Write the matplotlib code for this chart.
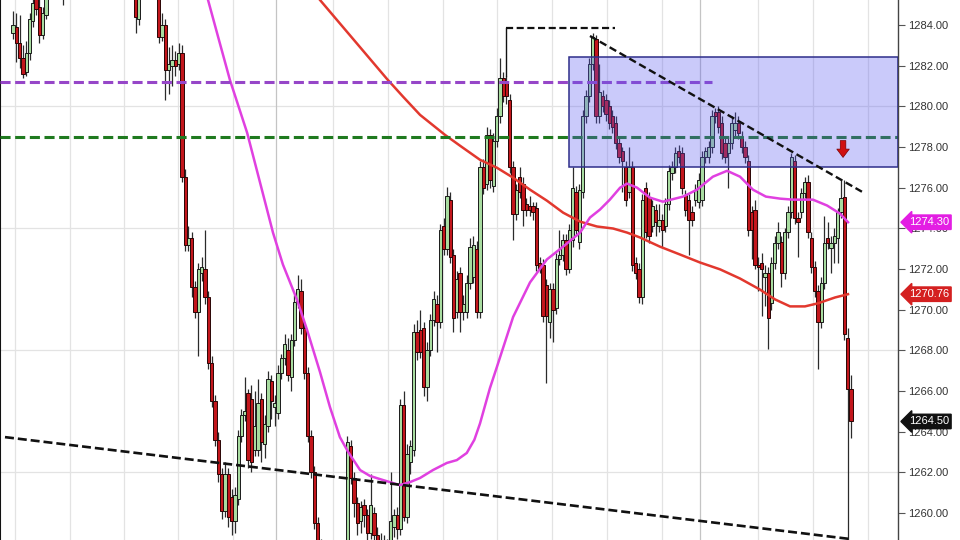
import matplotlib
matplotlib.use('Agg')
import matplotlib.pyplot as plt
import matplotlib.transforms as mtransforms
from matplotlib.patches import Rectangle
import numpy as np

# ---------------- data ----------------
opens = [1286.0, 1286.4, 1285.9, 1283.6, 1283.9, 1283.1, 1282.4, 1281.7, 1282.6, 1284.2,
         1285.6, 1284.9, 1283.5, 1284.5, 1285.6, 1286.3, 1286.9, 1286.5, 1286.0, 1286.6,
         1287.4, 1288.0, 1287.6, 1288.3, 1288.9, 1288.4, 1287.8, 1288.2, 1287.5, 1287.0,
         1287.6, 1287.2, 1286.8, 1287.3, 1286.9, 1286.4, 1286.8, 1286.2, 1286.5, 1286.1,
         1285.8, 1284.3, 1285.5, 1286.2, 1286.6, 1286.1, 1285.8, 1285.9, 1283.4, 1284.0,
         1281.8, 1282.0, 1282.3, 1282.1, 1282.6, 1276.5, 1273.2, 1273.5, 1271.1, 1269.9,
         1271.8, 1272.0, 1270.6, 1267.4, 1265.5, 1263.6, 1261.9, 1260.1, 1261.9, 1260.8,
         1259.6, 1260.7, 1263.8, 1264.8, 1265.9, 1265.6, 1263.1, 1263.1, 1265.6, 1263.4,
         1264.3, 1266.5, 1265.2, 1264.9, 1266.9, 1267.6, 1268.0, 1266.7, 1268.5, 1270.4,
         1270.9, 1269.1, 1266.9, 1263.8, 1262.0, 1259.5, 1258.4, 1257.9, 1257.5, 1257.9,
         1257.2, 1256.8, 1257.4, 1257.6, 1258.2, 1263.3, 1261.7, 1260.5, 1259.6, 1260.4,
         1259.9, 1259.0, 1260.0, 1258.9, 1258.2, 1258.4, 1258.1, 1258.0, 1259.3, 1259.9,
         1259.2, 1265.3, 1259.8, 1262.5, 1263.1, 1268.9, 1269.0, 1269.1, 1266.2, 1268.0,
         1269.5, 1270.3, 1269.4, 1274.1, 1273.0, 1275.4, 1272.7, 1269.9, 1271.8, 1269.9,
         1269.9, 1271.3, 1271.6, 1273.0, 1269.9, 1277.0, 1276.2, 1278.6, 1276.1, 1278.3,
         1279.5, 1281.4, 1281.2, 1280.3, 1277.0, 1274.7, 1276.5, 1276.2, 1275.2, 1275.1,
         1275.1, 1275.0, 1272.3, 1272.2, 1271.2, 1269.4, 1271.0, 1270.1, 1272.5, 1272.7,
         1273.45, 1272.0, 1273.45, 1275.8, 1273.35, 1275.8, 1279.5, 1280.5, 1282.1, 1283.3,
         1279.5, 1280.5, 1280.3, 1280.0, 1279.5, 1279.2, 1278.2, 1277.8, 1277.0, 1275.8,
         1277.0, 1272.3, 1272.0, 1270.6, 1276.0, 1275.55, 1274.1, 1274.9, 1274.1, 1274.4,
         1274.1, 1275.2, 1276.7, 1277.0, 1277.8, 1277.7, 1275.65, 1275.4, 1274.8, 1275.4,
         1275.3, 1275.4, 1277.5, 1277.5, 1278.0, 1279.7, 1279.7, 1279.2, 1278.2, 1277.7,
         1278.2, 1278.85, 1279.2, 1278.5, 1278.0, 1277.3, 1274.8, 1274.9, 1272.2, 1272.3,
         1271.6, 1271.8, 1270.35, 1272.3, 1273.3, 1273.35, 1271.8, 1273.8, 1274.8, 1277.3,
         1274.5, 1274.8, 1275.75, 1276.3, 1273.5, 1272.1, 1270.9, 1269.4, 1271.3, 1273.5,
         1273.05, 1273.3, 1273.5, 1274.8, 1275.55, 1268.6, 1266.1]

highs = [1286.8, 1286.9, 1286.2, 1284.7, 1284.6, 1284.5, 1283.0, 1283.2, 1284.6, 1285.5,
         1286.0, 1285.3, 1284.9, 1286.0, 1286.8, 1287.3, 1287.4, 1286.8, 1287.0, 1287.8,
         1288.4, 1288.5, 1288.7, 1289.3, 1289.4, 1288.7, 1288.6, 1288.5, 1287.8, 1287.9,
         1288.0, 1287.5, 1287.6, 1287.7, 1287.2, 1287.1, 1287.0, 1286.9, 1286.8, 1286.5,
         1286.3, 1285.8, 1286.6, 1287.0, 1286.9, 1286.4, 1286.2, 1286.2, 1284.6, 1284.3,
         1282.9, 1283.0, 1282.7, 1283.1, 1283.0, 1276.9, 1274.1, 1273.8, 1271.4, 1272.3,
         1272.6, 1273.9, 1270.9, 1267.7, 1265.8, 1264.0, 1262.2, 1262.5, 1262.2, 1261.2,
         1261.3, 1264.1, 1265.1, 1266.7, 1266.1, 1266.3, 1266.0, 1266.6, 1265.9, 1264.8,
         1267.0, 1266.8, 1265.8, 1267.3, 1267.8, 1268.8, 1268.6, 1268.8, 1270.7, 1271.7,
         1271.5, 1269.4, 1267.2, 1264.1, 1262.3, 1259.8, 1258.7, 1258.3, 1258.2, 1258.3,
         1257.5, 1257.8, 1258.0, 1258.5, 1263.8, 1263.6, 1262.0, 1260.8, 1260.6, 1260.7,
         1260.2, 1261.9, 1260.3, 1259.3, 1259.0, 1258.9, 1258.7, 1262.0, 1260.2, 1260.3,
         1265.6, 1266.0, 1263.4, 1263.6, 1269.3, 1269.5, 1270.0, 1269.4, 1268.4, 1269.8,
         1270.9, 1270.7, 1274.2, 1274.5, 1276.05, 1275.8, 1273.0, 1271.9, 1272.1, 1270.7,
         1271.7, 1273.5, 1273.6, 1273.4, 1277.3, 1277.4, 1279.0, 1278.9, 1278.7, 1279.9,
         1282.4, 1281.7, 1281.5, 1280.6, 1277.3, 1276.2, 1277.0, 1276.5, 1275.5, 1275.6,
         1275.3, 1275.3, 1272.6, 1272.5, 1271.5, 1271.3, 1271.3, 1272.8, 1273.9, 1273.7,
         1273.7, 1274.2, 1277.0, 1276.1, 1276.2, 1279.8, 1280.8, 1282.4, 1283.6, 1283.5,
         1282.1, 1280.8, 1280.6, 1280.3, 1279.8, 1279.5, 1278.5, 1278.0, 1277.3, 1278.0,
         1277.3, 1272.6, 1272.3, 1275.7, 1276.3, 1275.8, 1275.4, 1275.2, 1275.2, 1274.7,
         1275.5, 1277.1, 1277.3, 1278.0, 1278.1, 1278.0, 1275.9, 1275.7, 1275.1, 1276.2,
         1276.7, 1277.8, 1278.0, 1278.3, 1279.8, 1279.9, 1280.0, 1279.5, 1278.5, 1278.5,
         1279.5, 1279.7, 1279.5, 1278.8, 1278.3, 1277.6, 1275.1, 1275.4, 1272.6, 1272.8,
         1272.2, 1272.1, 1272.6, 1273.6, 1274.3, 1273.6, 1274.0, 1275.1, 1277.7, 1277.6,
         1274.8, 1276.0, 1276.5, 1276.6, 1273.8, 1272.4, 1271.2, 1271.6, 1274.6, 1274.3,
         1273.6, 1274.0, 1275.0, 1276.4, 1276.4, 1269.1, 1266.8]

lows = [1285.6, 1285.5, 1285.3, 1283.3, 1282.2, 1281.9, 1281.4, 1281.5, 1282.3, 1283.9,
        1284.5, 1283.1, 1283.3, 1284.3, 1285.4, 1286.0, 1286.1, 1285.6, 1285.0, 1286.4,
        1287.1, 1287.2, 1287.3, 1288.0, 1288.0, 1287.5, 1287.4, 1287.1, 1286.7, 1286.8,
        1286.9, 1286.5, 1286.6, 1286.5, 1286.0, 1286.1, 1285.8, 1285.9, 1285.7, 1285.5,
        1283.6, 1284.0, 1285.3, 1285.9, 1285.8, 1285.4, 1285.5, 1283.1, 1283.2, 1280.3,
        1280.6, 1281.0, 1281.5, 1281.8, 1276.3, 1272.9, 1272.9, 1270.6, 1269.6, 1267.7,
        1271.4, 1270.3, 1267.1, 1265.2, 1263.3, 1261.5, 1259.7, 1259.8, 1259.3, 1258.9,
        1259.0, 1260.4, 1263.5, 1264.5, 1262.2, 1262.0, 1262.8, 1262.8, 1262.5, 1262.7,
        1264.0, 1264.6, 1264.3, 1264.6, 1266.6, 1267.3, 1266.5, 1266.0, 1268.2, 1270.1,
        1268.8, 1266.6, 1263.5, 1261.7, 1259.2, 1258.1, 1257.6, 1257.2, 1257.1, 1256.8,
        1256.4, 1256.5, 1257.0, 1257.1, 1258.0, 1261.4, 1259.8, 1258.9, 1259.0, 1259.3,
        1258.5, 1258.7, 1258.4, 1257.8, 1257.7, 1257.6, 1257.5, 1257.8, 1258.8, 1258.7,
        1258.9, 1259.6, 1259.5, 1261.9, 1262.8, 1267.5, 1267.6, 1265.75, 1265.5, 1267.7,
        1269.2, 1267.9, 1269.1, 1272.7, 1272.7, 1272.3, 1268.9, 1269.6, 1268.9, 1269.5,
        1269.6, 1271.0, 1271.3, 1269.6, 1269.6, 1275.7, 1275.9, 1276.0, 1275.8, 1278.0,
        1279.2, 1280.2, 1280.1, 1276.7, 1273.45, 1274.4, 1275.5, 1274.1, 1274.6, 1274.6,
        1274.4, 1271.9, 1271.8, 1269.4, 1266.4, 1268.6, 1268.4, 1269.8, 1272.2, 1272.4,
        1271.7, 1271.8, 1273.1, 1273.6, 1273.0, 1275.5, 1279.2, 1280.2, 1281.8, 1279.2,
        1279.2, 1279.7, 1279.3, 1278.9, 1278.7, 1277.9, 1277.2, 1275.8, 1275.1, 1275.5,
        1271.9, 1271.5, 1270.35, 1270.3, 1273.5, 1273.3, 1273.8, 1273.6, 1273.8, 1273.1,
        1273.8, 1274.9, 1276.4, 1276.7, 1277.2, 1275.7, 1274.6, 1272.7, 1274.1, 1275.1,
        1275.0, 1275.1, 1277.2, 1277.2, 1277.7, 1279.2, 1278.7, 1277.4, 1277.2, 1276.0,
        1277.9, 1278.5, 1278.4, 1277.7, 1277.2, 1273.6, 1272.5, 1272.0, 1270.9, 1269.7,
        1270.2, 1268.05, 1270.0, 1272.0, 1273.0, 1271.1, 1271.5, 1273.5, 1274.5, 1274.2,
        1272.6, 1274.5, 1275.5, 1273.5, 1271.8, 1270.6, 1267.1, 1269.1, 1271.0, 1273.0,
        1271.8, 1272.3, 1272.3, 1274.5, 1268.5, 1255.0, 1263.7]

closes = [1286.4, 1285.8, 1285.4, 1284.0, 1283.1, 1282.4, 1281.6, 1282.6, 1284.3, 1285.1,
          1284.8, 1283.5, 1284.6, 1285.6, 1286.3, 1286.9, 1286.5, 1286.0, 1286.6, 1287.4,
          1288.0, 1287.6, 1288.3, 1288.9, 1288.4, 1287.8, 1288.2, 1287.5, 1287.0, 1287.6,
          1287.2, 1286.8, 1287.3, 1286.9, 1286.4, 1286.8, 1286.2, 1286.5, 1286.1, 1285.9,
          1284.4, 1285.5, 1286.2, 1286.6, 1286.1, 1285.8, 1286.0, 1283.4, 1284.0, 1281.8,
          1282.1, 1282.3, 1282.0, 1282.6, 1276.5, 1273.2, 1273.5, 1271.1, 1269.9, 1272.0,
          1272.1, 1270.6, 1267.4, 1265.5, 1263.6, 1261.9, 1260.1, 1261.9, 1259.8, 1259.6,
          1260.9, 1263.8, 1264.8, 1265.0, 1262.6, 1262.5, 1264.3, 1265.4, 1263.5, 1264.4,
          1266.6, 1265.5, 1265.4, 1266.9, 1267.6, 1268.3, 1266.8, 1268.5, 1270.4, 1271.0,
          1269.1, 1266.9, 1263.8, 1262.0, 1259.5, 1258.4, 1257.9, 1257.5, 1257.9, 1257.2,
          1256.8, 1257.4, 1257.6, 1258.2, 1263.5, 1261.7, 1260.5, 1259.5, 1260.3, 1259.9,
          1259.0, 1260.4, 1258.9, 1258.2, 1258.4, 1258.1, 1258.0, 1259.6, 1259.9, 1259.2,
          1265.3, 1259.8, 1262.9, 1263.3, 1268.9, 1267.9, 1267.9, 1266.2, 1268.0, 1269.5,
          1270.5, 1269.4, 1273.9, 1273.0, 1275.6, 1272.6, 1269.6, 1271.5, 1269.9, 1270.3,
          1271.3, 1273.1, 1273.2, 1269.9, 1277.0, 1276.0, 1278.6, 1276.4, 1278.3, 1279.5,
          1281.4, 1280.5, 1280.5, 1277.0, 1274.7, 1275.9, 1275.8, 1274.9, 1274.9, 1274.9,
          1274.8, 1272.2, 1272.0, 1269.7, 1269.7, 1271.0, 1270.0, 1272.5, 1272.7, 1273.45,
          1272.0, 1273.9, 1276.0, 1273.9, 1275.9, 1279.5, 1280.5, 1282.1, 1283.4, 1279.5,
          1280.7, 1280.0, 1279.6, 1279.2, 1279.0, 1278.2, 1277.5, 1277.3, 1275.4, 1277.0,
          1272.2, 1271.8, 1270.6, 1275.4, 1273.8, 1273.6, 1275.1, 1274.3, 1274.4, 1273.9,
          1275.2, 1276.8, 1277.0, 1277.7, 1277.5, 1276.0, 1274.9, 1274.4, 1274.4, 1275.9,
          1276.4, 1277.5, 1277.8, 1278.0, 1279.5, 1279.5, 1279.0, 1277.7, 1277.5, 1278.2,
          1279.2, 1279.2, 1278.7, 1278.0, 1277.5, 1273.9, 1273.9, 1272.2, 1272.1, 1272.0,
          1271.8, 1269.6, 1272.3, 1273.3, 1273.8, 1271.8, 1273.8, 1274.8, 1277.5, 1274.5,
          1274.3, 1275.75, 1276.3, 1273.8, 1272.1, 1270.9, 1269.4, 1271.3, 1273.3, 1273.3,
          1273.3, 1273.6, 1274.8, 1275.5, 1268.8, 1266.1, 1264.5]

# fast moving average (magenta) read as (bar, price) points
ma_fast_bar = [60.4, 61.9, 65.2, 68.5, 73.7, 77.6, 81.5, 84.5, 88.8, 91.8, 95.7, 98.7, 101.7,
               104.2, 107.8, 110.8, 114.7, 119.8, 122.9, 125.9, 129.8, 134.0, 137.0, 140.0,
               142.3, 144.0, 147.0, 149.1, 154.0, 159.1, 164.2, 169.1, 174.2, 177.2,
               180.2, 183.2, 186.3, 188.4, 191.4, 195.3, 199.2, 205.3, 209.5, 214.3, 218.6,
               222.5, 226.4, 230.3, 234.6, 238.5, 244.5, 248.8, 252.7, 255.1]
ma_fast_val = [1285.82, 1285.23, 1283.26, 1281.30, 1278.70, 1276.25, 1273.79, 1272.22, 1270.47,
               1269.00, 1266.93, 1265.21, 1263.73, 1263.00, 1262.11, 1261.82, 1261.62, 1261.37,
               1261.52, 1261.72, 1262.11, 1262.46, 1262.60, 1262.95, 1263.60, 1264.40, 1266.14,
               1267.18, 1269.64, 1271.34, 1272.47, 1273.10, 1273.79, 1274.53, 1274.92,
               1275.41, 1276.00, 1276.20, 1276.00, 1275.51, 1275.31, 1275.56, 1275.90, 1276.54,
               1276.83, 1276.54, 1275.90, 1275.56, 1275.46, 1275.41, 1275.41, 1275.12, 1274.72,
               1274.30]

# slow moving average (red)
ma_slow_bar = [89.7, 92.7, 95.7, 100.8, 105.7, 110.8, 115.9, 120.8, 125.9, 133.4, 138.0, 144.0,
               149.1, 154.0, 159.1, 164.2, 169.1, 174.2, 179.3, 184.2, 188.4, 192.3, 198.3,
               204.4, 210.4, 216.5, 222.5, 228.5, 233.1, 237.6, 242.1, 246.0, 251.2, 255.1]
ma_slow_val = [1286.40, 1285.82, 1285.23, 1284.25, 1283.31, 1282.33, 1281.35, 1280.47, 1279.58,
               1278.60, 1278.06, 1277.37, 1276.98, 1276.49, 1275.90, 1275.36, 1274.77, 1274.33,
               1274.09, 1273.99, 1273.79, 1273.55, 1273.10, 1272.71, 1272.32, 1271.98, 1271.53,
               1270.99, 1270.50, 1270.16, 1270.16, 1270.31, 1270.60, 1270.76]

# drawings
purple_level = 1281.2
purple_end_bar = 214.0
green_level = 1278.5
zone_left_bar = 171.0
zone_low, zone_high = 1277.0, 1282.45
upper_trend_bar = [177.2, 259.3]
upper_trend_val = [1283.46, 1275.80]
lower_trend_bar = [0.6, 255.7]
lower_trend_val = [1263.73, 1258.72]
high_mark_bar = [152.0, 184.8]
high_mark_val = 1283.85
high_mark_from = 1281.5
arrow_bar = 253.6
arrow_from, arrow_to = 1278.45, 1277.35

price_ticks = [1260, 1262, 1264, 1266, 1268, 1270, 1272, 1274, 1276, 1278, 1280, 1282, 1284]
grid_prices = [1262, 1268, 1274, 1280]
grid_bars = [3.6, 20.2, 36.5, 52.8, 69.4, 99.6, 116.2, 132.8, 149.1, 165.7, 182.3, 198.9,
             227.9, 244.5, 261.1]
session_bars = [82.4, 210.4]

tag_values = [1274.30, 1270.76, 1264.50]
tag_colors = ['#e31ee3', '#d42020', '#111111']

# ---------------- figure ----------------
fig = plt.figure(figsize=(9.6, 5.4), dpi=100)
ax = fig.add_axes([0, 0, 898 / 960, 1])
ax.set_xlim(-0.906, 270.19)
ax.set_ylim(1258.67, 1285.23)
ax.set_facecolor('white')

for g in grid_prices:
    ax.axhline(g, color='#e3e3e3', lw=0.9, zorder=0.5)
for g in grid_bars:
    ax.axvline(g, color='#e3e3e3', lw=0.9, zorder=0.5)
for g in session_bars:
    ax.axvline(g, color='#c4c4c4', lw=0.9, zorder=0.5)

o = np.array(opens); h = np.array(highs); l = np.array(lows); c = np.array(closes)
idx = np.arange(len(o))
up = c >= o
bottom = np.minimum(o, c)
height = np.abs(c - o)

ax.vlines(idx, l, h, color='#2b2b2b', lw=0.9, zorder=2)
ax.bar(idx[up], height[up], bottom=bottom[up], width=1.0, color='#a8dca0',
       edgecolor='#1a1a1a', lw=0.7, zorder=3)
ax.bar(idx[~up], height[~up], bottom=bottom[~up], width=1.0, color='#c3161c',
       edgecolor='#2a0505', lw=0.7, zorder=3)

# moving averages
ax.plot(ma_slow_bar, ma_slow_val, color='#e2382e', lw=1.8, zorder=4)
ax.plot(ma_fast_bar, ma_fast_val, color='#e040e0', lw=1.8, zorder=4)

# horizontal levels
ax.plot([-0.906, purple_end_bar], [purple_level, purple_level], color='#9646c8', lw=2.2,
        ls=(0, (3.3, 1.5)), zorder=5)
ax.plot([-0.906, 270.19], [green_level, green_level], color='#1f7a1f', lw=2.2,
        ls=(0, (3.3, 1.5)), zorder=5)

# zone
ax.add_patch(Rectangle((zone_left_bar, zone_low), 270.19 - zone_left_bar, zone_high - zone_low,
                       facecolor='#5a5af0', alpha=0.32, edgecolor='none', zorder=6))
ax.add_patch(Rectangle((zone_left_bar, zone_low), 270.19 - zone_left_bar, zone_high - zone_low,
                       facecolor='none', edgecolor='#2e2e8a', lw=1.1, zorder=6))

# trendlines
ax.plot(upper_trend_bar, upper_trend_val, color='#111111', lw=1.7, ls=(0, (3.2, 1.6)), zorder=7)
ax.plot(lower_trend_bar, lower_trend_val, color='#111111', lw=1.9, ls=(0, (3.4, 1.5)), zorder=7)
ax.plot(high_mark_bar, [high_mark_val, high_mark_val], color='#111111', lw=1.6,
        ls=(0, (3.2, 1.6)), zorder=7)
ax.plot([high_mark_bar[0], high_mark_bar[0]], [high_mark_from, high_mark_val],
        color='#111111', lw=1.0, zorder=7)

# arrow
ax.annotate('', xy=(arrow_bar, arrow_to), xytext=(arrow_bar, arrow_from),
            arrowprops=dict(arrowstyle='simple,head_length=0.6,head_width=0.9,tail_width=0.4',
                            fc='#d01010', ec='#7a0000', lw=0.5), zorder=8)

# axes styling
for s in ['top', 'bottom']:
    ax.spines[s].set_visible(False)
ax.spines['right'].set_color('#444444')
ax.spines['right'].set_linewidth(1.0)
ax.spines['left'].set_color('#111111')
ax.spines['left'].set_linewidth(1.5)
ax.set_xticks([])
ax.yaxis.tick_right()
ax.set_yticks(price_ticks)
ax.set_yticklabels([f'{t:.2f}' for t in price_ticks], family=['Liberation Sans', 'DejaVu Sans'])
ax.tick_params(axis='y', direction='out', length=5, width=0.8, colors='#555555',
               labelsize=8, labelcolor='#333333', pad=2)

# price tags
blend = mtransforms.blended_transform_factory(ax.transAxes, ax.transData)
for v, col in zip(tag_values, tag_colors):
    ax.text(1.012, v, f'{v:.2f}', transform=blend, ha='left', va='center', fontsize=8,
            color='white', family=['Liberation Sans', 'DejaVu Sans'],
            bbox=dict(boxstyle='larrow,pad=0.2', fc=col, ec=col), zorder=20, clip_on=False)

fig.savefig('out.png', dpi=100)
